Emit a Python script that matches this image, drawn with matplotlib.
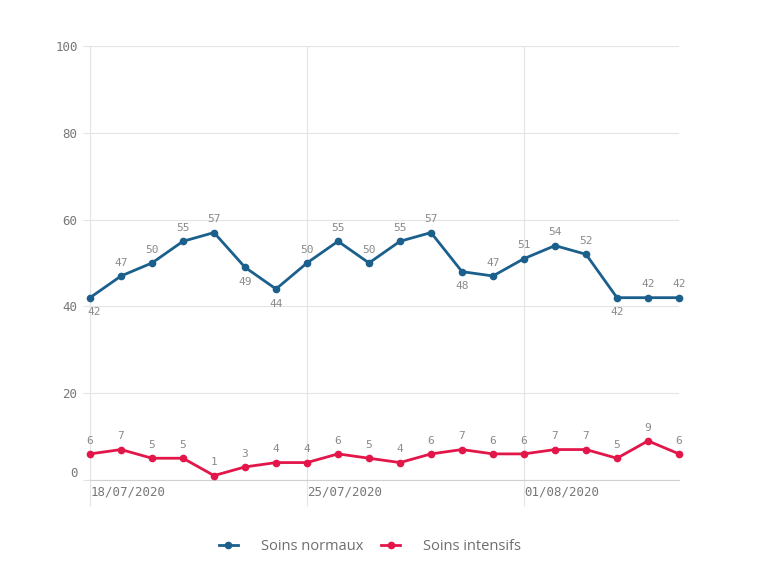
import numpy as np
import matplotlib
matplotlib.use("Agg")
import matplotlib.pyplot as plt
from matplotlib.transforms import ScaledTranslation

# Data (daily, 18/07/2020 -> 06/08/2020)
normaux = [42, 47, 50, 55, 57, 49, 44, 50, 55, 50, 55, 57, 48, 47, 51, 54, 52, 42, 42, 42]
intensifs = [6, 7, 5, 5, 1, 3, 4, 4, 6, 5, 4, 6, 7, 6, 6, 7, 7, 5, 9, 6]
tick_days = [0, 7, 14]
tick_labels = ["18/07/2020", "25/07/2020", "01/08/2020"]
y_ticks = [0, 20, 40, 60, 80, 100]

# label placement for the blue series: 1 above, -1 below
normaux_pos = [-1, 1, 1, 1, 1, -1, -1, 1, 1, 1, 1, 1, -1, 1, 1, 1, 1, -1, 1, 1]

blue = "#1b5f8c"
red = "#e3164a"
grid_col = "#e4e4e4"
label_col = "#8a8a8a"
mono = "DejaVu Sans Mono"

x = np.arange(len(normaux))

fig = plt.figure(figsize=(7.76, 5.86), dpi=100)
ax = fig.add_axes([0.116, 0.181, 0.759, 0.7405])

ax.plot(x, normaux, color=blue, lw=2, marker="o", ms=4.5, clip_on=False, zorder=3,
        label="Soins normaux")
ax.plot(x, intensifs, color=red, lw=2, marker="o", ms=4.5, clip_on=False, zorder=3,
        label="Soins intensifs")

# value labels
for i, (v, p) in enumerate(zip(normaux, normaux_pos)):
    dy = 6 if p > 0 else -7
    dx = 3 if i == 0 else 0
    ax.annotate(str(v), (x[i], v), xytext=(dx, dy), textcoords="offset points",
                ha="center", va="bottom" if p > 0 else "top",
                fontsize=8, family=mono, color=label_col)
for i, v in enumerate(intensifs):
    ax.annotate(str(v), (x[i], v), xytext=(0, 6), textcoords="offset points",
                ha="center", va="bottom", fontsize=8, family=mono, color=label_col)

ax.set_xlim(0, len(normaux) - 1)
ax.set_ylim(0, 100)

ax.set_yticks(y_ticks)
ax.set_yticklabels([str(t) for t in y_ticks], family=mono, fontsize=9, color="#777777")
ax.get_yticklabels()[0].set_va("bottom")  # the 0 label sits just above the axis

ax.set_xticks(tick_days)
ax.set_xticklabels(tick_labels, family=mono, fontsize=9, color="#777777", ha="left")
for lbl in ax.get_xticklabels():
    lbl.set_transform(lbl.get_transform() + ScaledTranslation(4 / 72, 0, fig.dpi_scale_trans))

ax.tick_params(axis="y", length=5, color=grid_col, pad=4)
ax.tick_params(axis="x", length=19, color=grid_col, width=0.8, pad=-15)

ax.grid(True, color=grid_col, lw=0.8)
ax.set_axisbelow(True)
for s in ["top", "right"]:
    ax.spines[s].set_visible(False)
ax.spines["left"].set_color(grid_col)
ax.spines["bottom"].set_color("#d0d0d0")

leg = fig.legend(loc="center", bbox_to_anchor=(0.477, 0.068), ncol=2, frameon=False,
                 prop={"family": "Open Sans", "size": 10.5}, handlelength=1.3,
                 columnspacing=1.2, handletextpad=1.6)
for t in leg.get_texts():
    t.set_color("#6e6e6e")

fig.savefig("out.png", dpi=100)
